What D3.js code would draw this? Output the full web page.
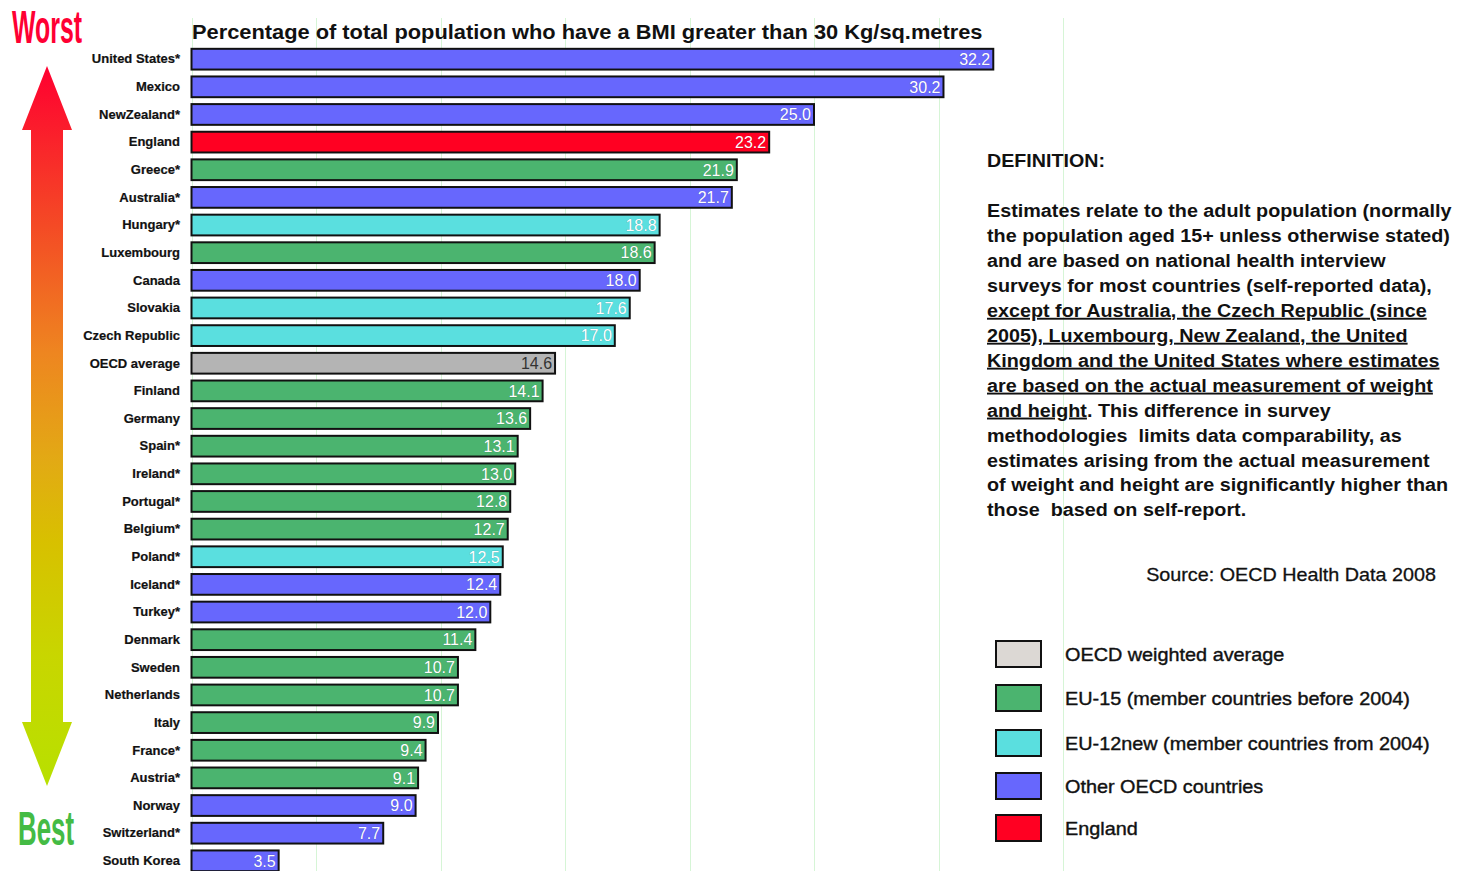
<!DOCTYPE html>
<html>
<head>
<meta charset="utf-8">
<script src="https://cdn.jsdelivr.net/npm/d3@7/dist/d3.min.js"></script>
<style>
  html, body { margin: 0; padding: 0; background: #fff; }
  svg { display: block; }
  text { font-family: "Liberation Sans", Arial, sans-serif; }
</style>
</head>
<body>
<svg id="chart" width="1462" height="871"></svg>
<script>
// Obesity (BMI > 30) by country, OECD Health Data 2008
const countries = ["United States*", "Mexico", "NewZealand*", "England", "Greece*", "Australia*",
  "Hungary*", "Luxembourg", "Canada", "Slovakia", "Czech Republic", "OECD average", "Finland",
  "Germany", "Spain*", "Ireland*", "Portugal*", "Belgium*", "Poland*", "Iceland*", "Turkey*",
  "Denmark", "Sweden", "Netherlands", "Italy", "France*", "Austria*", "Norway", "Switzerland*",
  "South Korea"];
const values = [32.2, 30.2, 25.0, 23.2, 21.9, 21.7, 18.8, 18.6, 18.0, 17.6, 17.0, 14.6, 14.1,
  13.6, 13.1, 13.0, 12.8, 12.7, 12.5, 12.4, 12.0, 11.4, 10.7, 10.7, 9.9, 9.4, 9.1, 9.0, 7.7, 3.5];
const groups = ["other", "other", "other", "england", "eu15", "other", "eu12", "eu15", "other",
  "eu12", "eu12", "oecd", "eu15", "eu15", "eu15", "eu15", "eu15", "eu15", "eu12", "other", "other",
  "eu15", "eu15", "eu15", "eu15", "eu15", "eu15", "other", "other", "other"];
const gridTicks = [0, 5, 10, 15, 20, 25, 30, 35];

const legendKeys = ["oecdLegend", "eu15", "eu12", "other", "england"];
const legendLabels = ["OECD weighted average", "EU-15 (member countries before 2004)",
  "EU-12new (member countries from 2004)", "Other OECD countries", "England"];

const titleText = "Percentage of total population who have a BMI greater than 30 Kg/sq.metres";
const definitionHeading = "DEFINITION:";
// each line is a list of [text, underlined]
const definitionLines = [
  [["Estimates relate to the adult population (normally", false]],
  [["the population aged 15+ unless otherwise stated)", false]],
  [["and are based on national health interview", false]],
  [["surveys for most countries (self-reported data),", false]],
  [["except for Australia, the Czech Republic (since", true]],
  [["2005), Luxembourg, New Zealand, the United", true]],
  [["Kingdom and the United States where estimates", true]],
  [["are based on the actual measurement of weight", true]],
  [["and height", true], [". This difference in survey", false]],
  [["methodologies  limits data comparability, as", false]],
  [["estimates arising from the actual measurement", false]],
  [["of weight and height are significantly higher than", false]],
  [["those  based on self-report.", false]]
];
const sourceText = "Source: OECD Health Data 2008";

const colour = d3.scaleOrdinal()
  .domain(["other", "eu15", "eu12", "england", "oecd", "oecdLegend"])
  .range(["#6767fd", "#4bb46f", "#5adfdf", "#ff0022", "#b4b4b4", "#dcd8d4"]);

const svg = d3.select("#chart");
svg.append("rect").attr("width", 1462).attr("height", 871).attr("fill", "#fff");

const x = d3.scaleLinear().domain([0, 35]).range([191.5, 1063]);
const y = d3.scaleBand().domain(countries).range([45.5, 874.5]).paddingInner(0.25).paddingOuter(0.12);

// squeeze a text horizontally so it spans the given width
function fitWidth(sel, tx, ty, target) {
  const w = sel.node().getComputedTextLength();
  sel.attr("transform", `translate(${tx},${ty}) scale(${target / w},1)`);
  return target / w;
}

// vertical gridlines
svg.append("g").selectAll("line").data(gridTicks).join("line")
  .attr("x1", d => Math.round(x(d)) + 0.5).attr("x2", d => Math.round(x(d)) + 0.5)
  .attr("y1", 18).attr("y2", 871)
  .attr("stroke", "#d6f5d6").attr("stroke-width", 1);

// title
const title = svg.append("text").text(titleText)
  .attr("font-size", 21).attr("font-weight", "bold").attr("fill", "#111");
fitWidth(title, 192, 39, 791);

// bars
const bars = svg.append("g");
bars.selectAll("rect").data(values).join("rect")
  .attr("x", x(0))
  .attr("y", (d, i) => y(countries[i]))
  .attr("width", d => x(d) - x(0))
  .attr("height", y.bandwidth())
  .attr("fill", (d, i) => colour(groups[i]))
  .attr("stroke", "#111").attr("stroke-width", 2);

// value labels inside bar ends
bars.selectAll("text").data(values).join("text")
  .attr("x", d => x(d) - 3)
  .attr("y", (d, i) => y(countries[i]) + y.bandwidth() / 2)
  .attr("dy", "0.36em")
  .attr("text-anchor", "end")
  .attr("font-size", 16)
  .attr("fill", (d, i) => groups[i] === "oecd" ? "#333" : "#fff")
  .attr("stroke", (d, i) => groups[i] === "oecd" ? "none" : "rgba(0,0,0,0.25)")
  .attr("stroke-width", 0.6)
  .attr("paint-order", "stroke")
  .text(d => d.toFixed(1));

// country labels
const labelG = svg.append("g");
countries.forEach((c, i) => {
  labelG.append("text").text(c)
    .attr("font-size", 13).attr("font-weight", "bold").attr("fill", "#111")
    .attr("stroke", "#111").attr("stroke-width", 0.2)
    .attr("text-anchor", "end").attr("dy", "0.33em")
    .attr("transform", `translate(180,${y(c) + y.bandwidth() / 2}) scale(1.0,1)`);
});

// worst / best arrow
const defs = svg.append("defs");
const grad = defs.append("linearGradient").attr("id", "arrowGrad")
  .attr("gradientUnits", "userSpaceOnUse").attr("x1", 0).attr("y1", 67).attr("x2", 0).attr("y2", 785);
[[0, "#ff0030"], [0.22, "#f44a25"], [0.4, "#ee8620"], [0.55, "#e2aa14"], [0.66, "#d8c000"],
 [0.82, "#c8d600"], [1, "#b8e000"]].forEach(([o, c]) =>
  grad.append("stop").attr("offset", o).attr("stop-color", c));
svg.append("path")
  .attr("d", "M47,66 L72,130 L63,130 L63,722 L72,722 L47,786 L22,722 L31,722 L31,130 L22,130 Z")
  .attr("fill", "url(#arrowGrad)");

const worst = svg.append("text").text("Worst")
  .attr("font-size", 46).attr("font-weight", "bold").attr("fill", "#ff0033");
fitWidth(worst, 12, 43, 70);
const best = svg.append("text").text("Best")
  .attr("font-size", 48).attr("font-weight", "bold").attr("fill", "#44bb44");
fitWidth(best, 18, 845, 56);

// definition block
const defG = svg.append("g");
const heading = defG.append("text").text(definitionHeading)
  .attr("font-size", 19).attr("font-weight", "bold").attr("fill", "#111");
fitWidth(heading, 987, 167, 118);

const lineTexts = definitionLines.map(segs => {
  const t = defG.append("text").attr("font-size", 19).attr("font-weight", "bold").attr("fill", "#111")
    .style("white-space", "pre");
  segs.forEach(([s, u]) => {
    t.append("tspan").text(s).attr("text-decoration", u ? "underline" : null);
  });
  return t;
});
const sx = 465 / lineTexts[0].node().getComputedTextLength();
lineTexts.forEach((t, i) => {
  t.attr("transform", `translate(987,${217 + i * 24.95}) scale(${sx},1)`);
});

const source = svg.append("text").text(sourceText)
  .attr("font-size", 19).attr("fill", "#111").attr("text-anchor", "end")
  .attr("stroke", "#111").attr("stroke-width", 0.3);
fitWidth(source, 1436, 581, 290);

// legend
const legend = svg.append("g");
const legendY = [654, 698, 743, 786, 828];
const legendTexts = legendKeys.map((k, i) => {
  legend.append("rect").attr("x", 996).attr("y", legendY[i] - 13)
    .attr("width", 45).attr("height", 26)
    .attr("fill", colour(k)).attr("stroke", "#111").attr("stroke-width", 2);
  return legend.append("text").text(legendLabels[i])
    .attr("font-size", 19).attr("fill", "#111")
    .attr("stroke", "#111").attr("stroke-width", 0.4);
});
const lsx = 365 / legendTexts[2].node().getComputedTextLength();
legendTexts.forEach((t, i) => {
  t.attr("transform", `translate(1065,${legendY[i] + 7}) scale(${lsx},1)`);
});
</script>
</body>
</html>
